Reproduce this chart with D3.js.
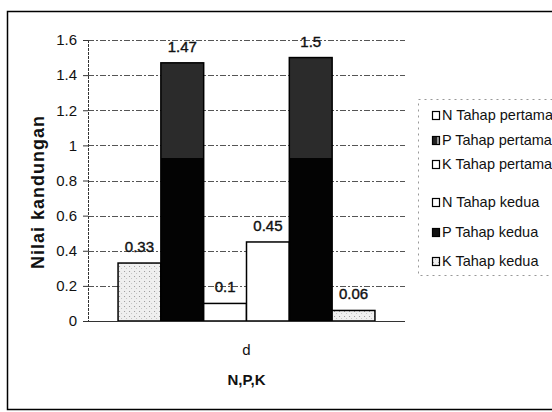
<!DOCTYPE html>
<meta charset="utf-8">
<title>Nilai kandungan N,P,K</title>

<style>
body{
	margin: 0;
	background: white;
}
text{
	font-family: "Liberation Sans", Arial, sans-serif;
	fill: #111;
}
</style>

<body>

<script src="https://d3js.org/d3.v7.min.js"></script>

<script>

// data
var categories = ['d'];
var seriesNames = ['N Tahap pertama', 'P Tahap pertama', 'K Tahap pertama', 'N Tahap kedua', 'P Tahap kedua', 'K Tahap kedua'];
var seriesValues = [0.33, 1.47, 0.1, 0.45, 1.5, 0.06];
var yTicks = [0, 0.2, 0.4, 0.6, 0.8, 1, 1.2, 1.4, 1.6];

// fills as they come out of the scan
var barFills = ['url(#stipple)', 'url(#darkfade)', 'white', 'white', 'url(#darkfade)', 'url(#stipple)'];
var legendFills = ['white', 'url(#halfdark)', 'white', 'white', '#111', 'url(#stipple)'];
var legendRowY = [115, 140, 164, 202, 232, 261];

var width = 552, height = 412;
var plot = {left: 88, right: 405, top: 40, bottom: 321};

var svg = d3.select('body')
	.append('svg')
	.attr('width', width)
	.attr('height', height);

var defs = svg.append('defs');

var stipple = defs.append('pattern')
	.attr('id', 'stipple')
	.attr('patternUnits', 'userSpaceOnUse')
	.attr('width', 5)
	.attr('height', 5);
stipple.append('rect').attr('width', 5).attr('height', 5).attr('fill', '#efefef');
stipple.append('rect').attr('x', 1).attr('y', 1).attr('width', 1).attr('height', 1).attr('fill', '#9a9a9a');
stipple.append('rect').attr('x', 3).attr('y', 3).attr('width', 1).attr('height', 1).attr('fill', '#c4c4c4');

var y = d3.scaleLinear()
	.domain([0, 1.6])
	.range([plot.bottom, plot.top]);

// watermark makes the upper part of the black bars look dark grey
var darkfade = defs.append('linearGradient')
	.attr('id', 'darkfade')
	.attr('gradientUnits', 'userSpaceOnUse')
	.attr('x1', 0).attr('x2', 0)
	.attr('y1', y(1.6)).attr('y2', y(0));
var cut = (y(0.93) - y(1.6)) / (y(0) - y(1.6));
darkfade.append('stop').attr('offset', 0).attr('stop-color', '#2b2b2b');
darkfade.append('stop').attr('offset', cut).attr('stop-color', '#2b2b2b');
darkfade.append('stop').attr('offset', cut).attr('stop-color', '#030303');
darkfade.append('stop').attr('offset', 1).attr('stop-color', '#030303');

var halfdark = defs.append('linearGradient')
	.attr('id', 'halfdark');
halfdark.append('stop').attr('offset', 0).attr('stop-color', '#222');
halfdark.append('stop').attr('offset', 0.6).attr('stop-color', '#222');
halfdark.append('stop').attr('offset', 0.6).attr('stop-color', '#999');
halfdark.append('stop').attr('offset', 1).attr('stop-color', '#999');

var x0 = d3.scaleBand()
	.domain(categories)
	.range([plot.left, plot.right])
	.paddingInner(0)
	.paddingOuter(0.117);

var x1 = d3.scaleBand()
	.domain(seriesNames)
	.range([0, x0.bandwidth()]);

// outer chart border
svg.append('rect')
	.attr('x', 7.5)
	.attr('y', 11.5)
	.attr('width', 600)
	.attr('height', 398)
	.attr('fill', 'none')
	.attr('stroke', '#000')
	.attr('stroke-width', 1.5);

// gridlines
svg.append('g')
	.selectAll('line')
	.data(yTicks.slice(1))
	.enter()
	.append('line')
	.attr('x1', plot.left)
	.attr('x2', plot.right)
	.attr('y1', function(d){ return Math.round(y(d)) + 0.5; })
	.attr('y2', function(d){ return Math.round(y(d)) + 0.5; })
	.attr('stroke', '#555')
	.attr('stroke-dasharray', '6,2,2,2');

// y axis
var yAxis = d3.axisLeft(y)
	.tickValues(yTicks)
	.tickSize(5)
	.tickPadding(6)
	.tickFormat(function(d){ return String(d); });

var gy = svg.append('g')
	.attr('transform', 'translate(' + plot.left + ',0)')
	.call(yAxis);
gy.select('.domain').attr('stroke', '#333').attr('stroke-dasharray', '3,1');
gy.selectAll('.tick line').attr('stroke', '#333');
gy.selectAll('.tick text')
	.style('font-size', '15px')
	.attr('fill', '#111');

// bars
var gbars = svg.append('g')
	.selectAll('g')
	.data(categories)
	.enter()
	.append('g')
	.attr('transform', function(d){ return 'translate(' + x0(d) + ',0)'; });

var bars = gbars.selectAll('rect')
	.data(seriesNames.map(function(s, i){ return {name: s, value: seriesValues[i], fill: barFills[i]}; }))
	.enter();

bars.append('rect')
	.attr('x', function(d){ return x1(d.name); })
	.attr('y', function(d){ return y(d.value); })
	.attr('width', x1.bandwidth())
	.attr('height', function(d){ return y(0) - y(d.value); })
	.attr('fill', function(d){ return d.fill; })
	.attr('stroke', '#000')
	.attr('stroke-width', 1.5);

bars.append('text')
	.attr('x', function(d){ return x1(d.name) + x1.bandwidth() / 2; })
	.attr('y', function(d){ return y(d.value) - 11; })
	.attr('text-anchor', 'middle')
	.style('font-size', '15px')
	.style('stroke', '#111')
	.style('stroke-width', 0.4)
	.text(function(d){ return d.value; });

// x axis baseline
svg.append('line')
	.attr('x1', plot.left)
	.attr('x2', plot.right)
	.attr('y1', y(0) + 0.5)
	.attr('y2', y(0) + 0.5)
	.attr('stroke', '#333');

// category label
svg.append('g')
	.selectAll('text')
	.data(categories)
	.enter()
	.append('text')
	.attr('x', function(d){ return x0(d) + x0.bandwidth() / 2; })
	.attr('y', 355)
	.attr('text-anchor', 'middle')
	.style('font-size', '15px')
	.text(function(d){ return d; });

// axis titles
svg.append('text')
	.attr('x', x0(categories[0]) + x0.bandwidth() / 2)
	.attr('y', 385)
	.attr('text-anchor', 'middle')
	.style('font-size', '15px')
	.style('font-weight', 'bold')
	.text('N,P,K');

svg.append('text')
	.attr('transform', 'translate(38,192) rotate(-90)')
	.attr('text-anchor', 'middle')
	.attr('dominant-baseline', 'central')
	.style('font-size', '18px')
	.style('font-weight', 'bold')
	.style('letter-spacing', '1px')
	.text('Nilai kandungan');

// legend
svg.append('rect')
	.attr('x', 418.5)
	.attr('y', 99.5)
	.attr('width', 160)
	.attr('height', 176)
	.attr('fill', 'none')
	.attr('stroke', '#999')
	.attr('stroke-dasharray', '2,4');

var legend = svg.append('g')
	.selectAll('g')
	.data(seriesNames)
	.enter()
	.append('g')
	.attr('transform', function(d, i){ return 'translate(432,' + legendRowY[i] + ')'; });

legend.append('rect')
	.attr('x', 0.5)
	.attr('y', -3.5)
	.attr('width', 7)
	.attr('height', 8)
	.attr('fill', function(d, i){ return legendFills[i]; })
	.attr('stroke', '#000')
	.attr('stroke-width', 1.2);

legend.append('text')
	.attr('x', 10)
	.attr('y', 0)
	.attr('dominant-baseline', 'central')
	.style('font-size', '14.5px')
	.text(function(d){ return d; });

</script>
</body>
